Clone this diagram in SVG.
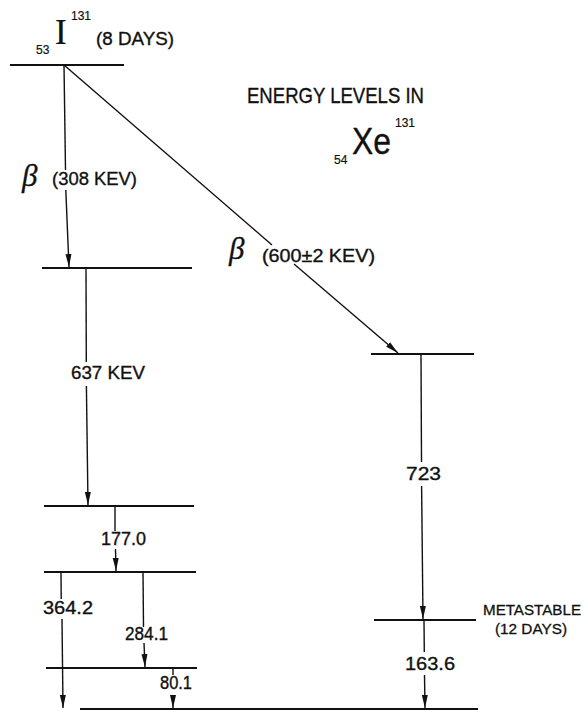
<svg xmlns="http://www.w3.org/2000/svg" width="585" height="713" viewBox="0 0 585 713">
<style>
.lvl{stroke:#111;stroke-width:2.2;fill:none}
.tr{stroke:#111;stroke-width:1.4;fill:none}
text{font-family:"Liberation Sans","DejaVu Sans",Arial,sans-serif;fill:#111;stroke:#111;stroke-width:0.35}
.lab{font-size:18px}
.big{font-size:22px}
.sm{font-size:12px;stroke-width:0.2}
.beta{font-family:"Liberation Serif","DejaVu Serif",serif;font-style:italic;font-size:31px;stroke-width:0.3}
</style>
<defs>
<marker id="ah" markerUnits="userSpaceOnUse" markerWidth="14" markerHeight="8" refX="13" refY="4" orient="auto">
<path d="M0,1 L13,4 L0,7 z" fill="#111"/>
</marker>
</defs>
<rect width="585" height="713" fill="#fff"/>

<g id="title">
<text class="big" x="247" y="103" textLength="177" lengthAdjust="spacingAndGlyphs">ENERGY LEVELS IN</text>
<text x="352" y="154" style="font-size:36px" textLength="39" lengthAdjust="spacingAndGlyphs">Xe</text>
<text class="sm" x="395" y="127">131</text>
<text class="sm" x="334" y="164">54</text>
</g>

<g id="level-I131">
<line class="lvl" x1="10" y1="65" x2="124" y2="65"/>
<text x="55" y="44" style="font-family:'Liberation Serif',serif;font-size:35px;stroke-width:0.2">I</text>
<text class="sm" x="71" y="20">131</text>
<text class="sm" x="36" y="54">53</text>
<text class="lab" x="96" y="45" textLength="78" lengthAdjust="spacingAndGlyphs">(8 DAYS)</text>
</g>

<g id="level-637">
<line class="lvl" x1="42" y1="268" x2="192" y2="268"/>
</g>
<g id="level-364">
<line class="lvl" x1="44" y1="506" x2="194" y2="506"/>
</g>
<g id="level-723">
<line class="lvl" x1="371" y1="354" x2="474" y2="354"/>
</g>
<g id="level-187">
<line class="lvl" x1="44" y1="572" x2="196" y2="572"/>
</g>
<g id="level-80">
<line class="lvl" x1="46" y1="668" x2="197" y2="668"/>
</g>
<g id="level-163">
<line class="lvl" x1="374" y1="620" x2="476" y2="620"/>
<text x="483" y="615" style="font-size:15px;stroke-width:0.3" textLength="98" lengthAdjust="spacingAndGlyphs">METASTABLE</text>
<text x="495" y="634" style="font-size:15px;stroke-width:0.3" textLength="72" lengthAdjust="spacingAndGlyphs">(12 DAYS)</text>
</g>
<g id="level-ground">
<line class="lvl" x1="80" y1="709" x2="478" y2="709"/>
</g>

<g id="connectors">
<!-- beta 308 -->
<line class="tr" x1="64" y1="65" x2="65.5" y2="170"/>
<line class="tr" x1="65.8" y1="190" x2="69" y2="267" marker-end="url(#ah)"/>
<text class="beta" x="22" y="186">β</text>
<text class="lab" x="52" y="185" textLength="85" lengthAdjust="spacingAndGlyphs">(308 KEV)</text>
<!-- beta 600 -->
<line class="tr" x1="64" y1="65" x2="272" y2="245"/>
<line class="tr" x1="294" y1="264" x2="398" y2="353" marker-end="url(#ah)"/>
<text class="beta" x="229" y="259">β</text>
<text class="lab" x="262" y="262" textLength="113" lengthAdjust="spacingAndGlyphs">(600±2 KEV)</text>
<!-- 637 -->
<line class="tr" x1="86" y1="268" x2="86.3" y2="362"/>
<line class="tr" x1="86.4" y1="386" x2="88" y2="505" marker-end="url(#ah)"/>
<text class="lab" x="71" y="379" textLength="74" lengthAdjust="spacingAndGlyphs">637 KEV</text>
<!-- 723 -->
<line class="tr" x1="421" y1="354" x2="421.5" y2="462"/>
<line class="tr" x1="421.6" y1="486" x2="423" y2="619" marker-end="url(#ah)"/>
<text class="lab" x="406" y="480" textLength="35" lengthAdjust="spacingAndGlyphs">723</text>
<!-- 177.0 -->
<line class="tr" x1="115" y1="506" x2="115" y2="531"/>
<line class="tr" x1="115.5" y1="549" x2="116" y2="571" marker-end="url(#ah)"/>
<text class="lab" x="101" y="545" textLength="45" lengthAdjust="spacingAndGlyphs">177.0</text>
<!-- 364.2 -->
<line class="tr" x1="61" y1="572" x2="61.2" y2="599"/>
<line class="tr" x1="62" y1="619" x2="63" y2="708" marker-end="url(#ah)"/>
<text class="lab" x="43" y="614" textLength="50" lengthAdjust="spacingAndGlyphs">364.2</text>
<!-- 284.1 -->
<line class="tr" x1="143" y1="572" x2="143.5" y2="627"/>
<line class="tr" x1="144" y1="643" x2="145" y2="667" marker-end="url(#ah)"/>
<text class="lab" x="125" y="640" textLength="43" lengthAdjust="spacingAndGlyphs">284.1</text>
<!-- 80.1 -->
<line class="tr" x1="173" y1="668" x2="173" y2="675"/>
<line class="tr" x1="173" y1="697" x2="173" y2="708" marker-end="url(#ah)"/>
<text class="lab" x="160" y="689" textLength="32" lengthAdjust="spacingAndGlyphs">80.1</text>
<!-- 163.6 -->
<line class="tr" x1="424" y1="620" x2="424.3" y2="652"/>
<line class="tr" x1="424.5" y1="675" x2="425" y2="708" marker-end="url(#ah)"/>
<text class="lab" x="405" y="670" textLength="50" lengthAdjust="spacingAndGlyphs">163.6</text>
</g>
</svg>
